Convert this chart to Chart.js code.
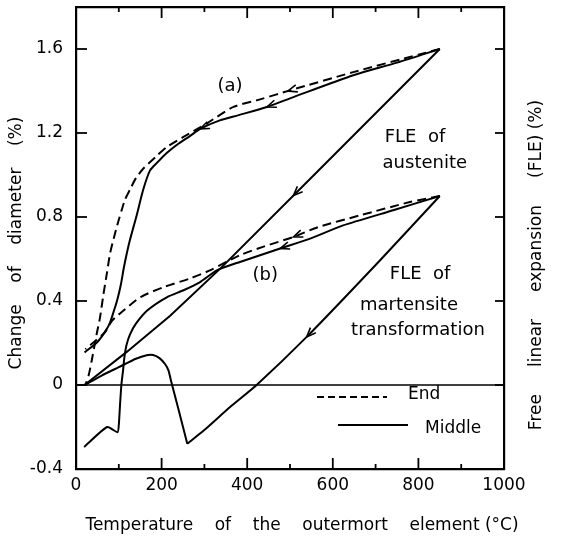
<!DOCTYPE html>
<html>
<head>
<meta charset="utf-8">
<script src="https://cdn.jsdelivr.net/npm/chart.js@4.4.1/dist/chart.umd.min.js"></script>
<style>
  body { margin: 0; background: #fff; }
  canvas { display: block; }
</style>
</head>
<body>
<canvas id="chart" width="568" height="538"></canvas>
<script>
// axis ticks
const xTicks = [0, 200, 400, 600, 800, 1000];
const xMinorTicks = [100, 300, 500, 700, 900];
const yTicks = [-0.4, 0, 0.4, 0.8, 1.2, 1.6];

// free linear expansion of austenite
const fleAustX = [20, 120, 220, 340, 566, 850];
const fleAustY = [0, 0.16, 0.33, 0.56, 1.02, 1.6];

// free linear expansion of martensite transformation (cooling branch)
const fleMartX = [850, 710, 539, 422, 360, 299, 260];
const fleMartY = [0.9, 0.593, 0.229, 0, -0.105, -0.216, -0.28];

// (a) middle element
const midAX = [850, 750, 648, 508, 446, 380, 336, 290, 266, 240, 212, 190, 173, 157, 142, 126, 118, 111, 105, 97, 89, 80, 70, 50, 20];
const midAY = [1.6, 1.535, 1.475, 1.371, 1.324, 1.285, 1.26, 1.22, 1.185, 1.15, 1.105, 1.06, 1.022, 0.93, 0.81, 0.69, 0.62, 0.55, 0.48, 0.41, 0.356, 0.3, 0.26, 0.205, 0.155];

// (a) end element
const endAX = [850, 804, 648, 500, 430, 368, 305, 250, 212, 188, 157, 140, 126, 115, 107, 99, 91, 80, 72, 64, 56, 48, 38, 30, 22];
const endAY = [1.6, 1.575, 1.49, 1.403, 1.36, 1.324, 1.245, 1.18, 1.133, 1.09, 1.03, 0.985, 0.93, 0.885, 0.835, 0.78, 0.72, 0.63, 0.53, 0.43, 0.32, 0.24, 0.13, 0.05, 0];

// (b) middle element, heating branch
const midBX = [19, 73, 97, 100, 103, 106, 110, 113, 118, 126, 140, 167, 213, 250, 290, 329, 383, 477, 547, 624, 741, 850];
const midBY = [-0.295, -0.2, -0.225, -0.19, -0.09, 0, 0.07, 0.13, 0.19, 0.24, 0.292, 0.356, 0.419, 0.45, 0.49, 0.546, 0.586, 0.65, 0.697, 0.76, 0.832, 0.9];

// (b) middle element, low temperature hump
const humpX = [260, 240, 222, 216, 208, 195, 180, 165, 140, 100, 60, 20];
const humpY = [-0.28, -0.12, 0.02, 0.07, 0.1, 0.128, 0.143, 0.142, 0.125, 0.085, 0.045, 0];

// (b) end element
const endBX = [850, 780, 664, 566, 508, 440, 383, 313, 266, 206, 151, 112, 85, 67, 45, 22];
const endBY = [0.9, 0.871, 0.808, 0.752, 0.705, 0.66, 0.618, 0.546, 0.507, 0.467, 0.419, 0.356, 0.308, 0.25, 0.21, 0.17];

// arrow heads: dataset index and temperature where they sit
const arrowSet = [0, 1, 2, 2, 3, 4, 6];
const arrowAt = [508, 539, 446, 290, 495, 477, 508];

// text inside the plot
const noteText = ['(a)', 'FLE  of', 'austenite', '(b)', 'FLE  of', 'martensite', 'transformation'];
const noteX = [360, 792, 815, 442, 804, 778, 799];
const noteY = [1.42, 1.178, 1.055, 0.522, 0.527, 0.38, 0.26];

const FONT = '"DejaVu Sans", sans-serif';

function pts(xs, ys) {
    return xs.map((x, i) => ({ x: x, y: ys[i] }));
}

function series(xs, ys, dashed, tension) {
    return {
        data: pts(xs, ys),
        borderColor: '#000',
        borderWidth: 2,
        borderDash: dashed ? [9, 5] : [],
        pointRadius: 0,
        tension: tension,
        fill: false
    };
}

function line(ctx, x1, y1, x2, y2) {
    ctx.beginPath();
    ctx.moveTo(x1, y1);
    ctx.lineTo(x2, y2);
    ctx.stroke();
}

function drawArrow(chart, dsIndex, atX) {
    const ctx = chart.ctx;
    const p = chart.getDatasetMeta(dsIndex).data;
    const px = chart.scales.x.getPixelForValue(atX);
    for (let i = 0; i < p.length - 1; i++) {
        const a = p[i], b = p[i + 1];
        if (a.x === b.x || (a.x - px) * (b.x - px) > 0) continue;
        const t = (px - a.x) / (b.x - a.x);
        const py = a.y + t * (b.y - a.y);
        // points toward falling temperature
        let dx = a.x - b.x, dy = a.y - b.y;
        if (dx > 0) { dx = -dx; dy = -dy; }
        const ang = Math.atan2(dy, dx);
        const size = 10, spread = 0.38;
        ctx.beginPath();
        ctx.moveTo(px - size * Math.cos(ang - spread), py - size * Math.sin(ang - spread));
        ctx.lineTo(px, py);
        ctx.lineTo(px - size * Math.cos(ang + spread), py - size * Math.sin(ang + spread));
        ctx.stroke();
        return;
    }
}

const decorations = {
    id: 'decorations',
    afterDraw(chart) {
        const ctx = chart.ctx;
        const area = chart.chartArea;
        const xs = chart.scales.x, ys = chart.scales.y;
        ctx.save();
        ctx.setLineDash([]);
        ctx.strokeStyle = '#000';
        ctx.fillStyle = '#000';
        ctx.lineWidth = 1.8;
        ctx.lineCap = 'butt';

        // inward tick marks on all four sides
        for (const v of xTicks.concat(xMinorTicks)) {
            const len = xTicks.includes(v) ? 11 : 5;
            const px = xs.getPixelForValue(v);
            line(ctx, px, area.bottom, px, area.bottom - len);
            line(ctx, px, area.top, px, area.top + len);
        }
        for (const v of yTicks) {
            const py = ys.getPixelForValue(v);
            line(ctx, area.left, py, area.left + 11, py);
            line(ctx, area.right, py, area.right - 9, py);
        }

        // zero line
        const y0 = ys.getPixelForValue(0);
        ctx.lineWidth = 1.6;
        line(ctx, area.left, y0, area.right, y0);

        arrowSet.forEach((ds, i) => drawArrow(chart, ds, arrowAt[i]));

        // notes
        ctx.font = '18px ' + FONT;
        ctx.textAlign = 'center';
        ctx.textBaseline = 'middle';
        noteText.forEach((t, i) => {
            ctx.fillText(t, xs.getPixelForValue(noteX[i]), ys.getPixelForValue(noteY[i]));
        });

        // legend
        ctx.lineWidth = 1.8;
        ctx.setLineDash([7, 4]);
        line(ctx, 317, 397, 387, 397);
        ctx.setLineDash([]);
        line(ctx, 338, 425, 408, 425);
        ctx.font = '17px ' + FONT;
        ctx.textAlign = 'left';
        ctx.fillText('End', 408, 395);
        ctx.fillText('Middle', 425, 429);

        // axis titles
        ctx.textAlign = 'center';
        ctx.fillText('Temperature    of    the    outermort    element (°C)', 302, 526);
        ctx.save();
        ctx.translate(17, 243);
        ctx.rotate(-Math.PI / 2);
        ctx.fillText('Change    of    diameter    (%)', 0, 0);
        ctx.restore();
        ctx.save();
        ctx.translate(537, 265);
        ctx.rotate(-Math.PI / 2);
        ctx.fillText('Free     linear     expansion     (FLE) (%)', 0, 0);
        ctx.restore();

        ctx.restore();
    }
};

const border = { display: true, color: '#000', width: 2.2 };
const noGrid = { display: false, drawTicks: false };

// fixed axis boxes, no label overhang
function fixBox(w, h) {
    return s => {
        if (w !== null) s.width = w;
        if (h !== null) s.height = h;
        s.paddingTop = 0;
        s.paddingBottom = 0;
        s.paddingLeft = 0;
        s.paddingRight = 0;
    };
}

new Chart(document.getElementById('chart'), {
    type: 'line',
    data: {
        datasets: [
            series(fleAustX, fleAustY, false, 0),
            series(fleMartX, fleMartY, false, 0.2),
            series(midAX, midAY, false, 0.25),
            series(endAX, endAY, true, 0.25),
            series(midBX, midBY, false, 0.2),
            series(humpX, humpY, false, 0.25),
            series(endBX, endBY, true, 0.25)
        ]
    },
    options: {
        responsive: false,
        animation: false,
        devicePixelRatio: 1,
        events: [],
        layout: { padding: 0 },
        plugins: {
            legend: { display: false },
            tooltip: { enabled: false }
        },
        scales: {
            x: {
                type: 'linear',
                position: 'bottom',
                min: 0,
                max: 1000,
                afterBuildTicks: s => { s.ticks = xTicks.map(v => ({ value: v })); },
                afterFit: fixBox(null, 69),
                ticks: {
                    color: '#000',
                    padding: 6,
                    maxRotation: 0,
                    font: { family: FONT, size: 17 },
                    callback: v => String(v)
                },
                grid: noGrid,
                border: border
            },
            x2: {
                type: 'linear',
                position: 'top',
                min: 0,
                max: 1000,
                afterFit: fixBox(null, 7),
                ticks: { display: false },
                grid: noGrid,
                border: border
            },
            y: {
                type: 'linear',
                position: 'left',
                min: -0.4,
                max: 1.8,
                afterBuildTicks: s => { s.ticks = yTicks.map(v => ({ value: v })); },
                afterFit: fixBox(76, null),
                ticks: {
                    color: '#000',
                    padding: 13,
                    font: { family: FONT, size: 17 },
                    callback: v => v === 0 ? '0' : v.toFixed(1)
                },
                grid: noGrid,
                border: border
            },
            y2: {
                type: 'linear',
                position: 'right',
                min: -0.4,
                max: 1.8,
                afterFit: fixBox(64, null),
                ticks: { display: false },
                grid: noGrid,
                border: border
            }
        }
    },
    plugins: [decorations]
});
</script>
</body>
</html>
